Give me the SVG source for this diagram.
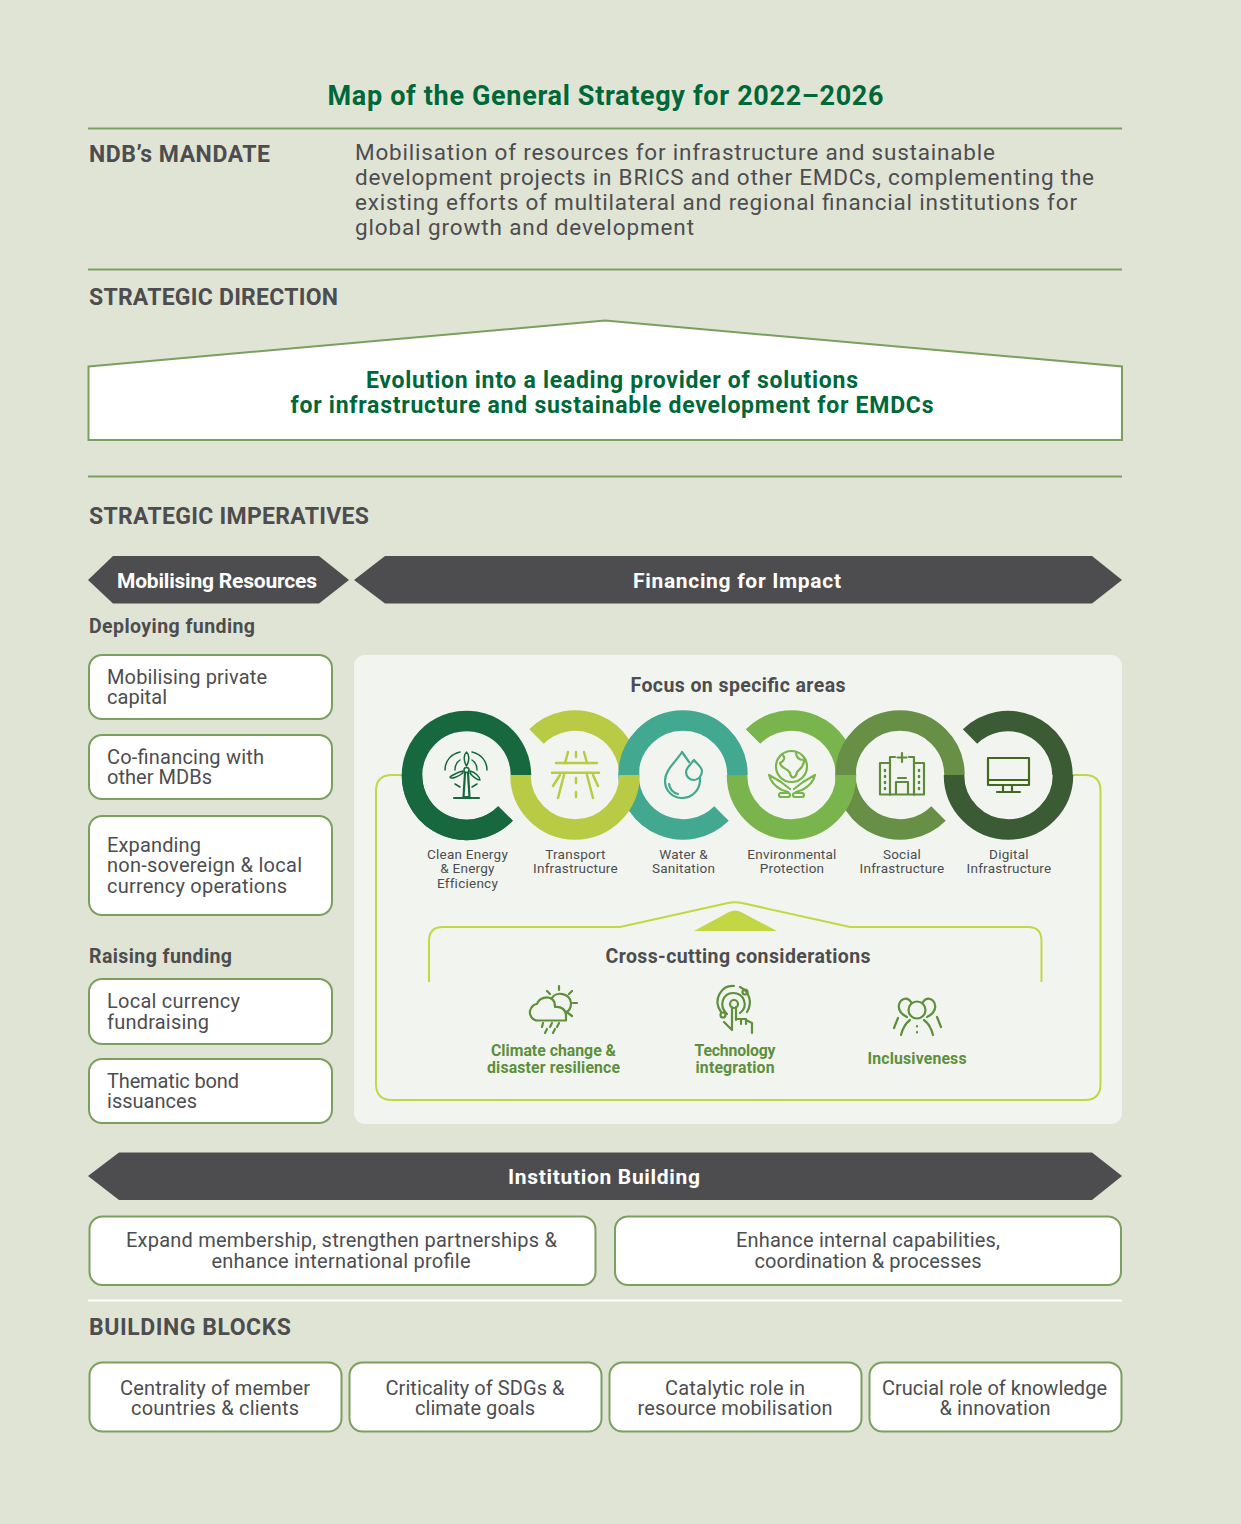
<svg xmlns="http://www.w3.org/2000/svg" width="1241" height="1524" viewBox="0 0 1241 1524">
<style>
text{font-family:Roboto,"Liberation Sans",sans-serif;fill:#4d4d4f}
.h{font-weight:700;font-size:23px}
.b{font-size:20px}
.box{fill:#fff;stroke:#7a9f5e;stroke-width:2}
.rule{stroke:#7a9f5e;stroke-width:2;fill:none}
.bar{fill:#4d4d4f}
.barT{fill:#fff;font-weight:700;font-size:21px;text-anchor:middle}
.c{text-anchor:middle}
.sub{font-weight:700;font-size:19.500px}
.a{fill:none;stroke-width:20.500}
.l{font-size:13.500px;text-anchor:middle;letter-spacing:.25px}
.g{font-weight:700;font-size:15.800px;text-anchor:middle;fill:#5d8f3c}
.ic{fill:none;stroke-width:2.200;stroke-linecap:round;stroke-linejoin:round}
</style>
<rect width="1241" height="1524" fill="#e0e4d5"/>
<g id="title"><text x="605.500" y="105" text-anchor="middle" font-size="27" font-weight="700" style="fill:#006838" textLength="556">Map of the General Strategy for 2022–2026</text></g>
<g id="rules">
<path class="rule" d="M88 128.500H1122M88 269.500H1122M88 476.500H1122"/>
<path d="M88 1300.500H1122" stroke="#fff" stroke-width="2"/>
</g>
<g id="mandate">
<text class="h" x="89" y="162" textLength="181">NDB’s MANDATE</text>
<g font-size="22.500">
<text x="355" y="160" textLength="640">Mobilisation of resources for infrastructure and sustainable</text>
<text x="355" y="185" textLength="739">development projects in BRICS and other EMDCs, complementing the</text>
<text x="355" y="210" textLength="722">existing efforts of multilateral and regional financial institutions for</text>
<text x="355" y="235" textLength="339">global growth and development</text>
</g>
</g>
<g id="direction">
<text class="h" x="89" y="305" textLength="249">STRATEGIC DIRECTION</text>
<path d="M88.500 366.500L605 320.500L1122 366.500V440H88.500Z" class="box"/>
<g font-size="23" font-weight="700" text-anchor="middle">
<text x="612" y="388" style="fill:#006838" textLength="492">Evolution into a leading provider of solutions</text>
<text x="612" y="413" style="fill:#006838" textLength="643">for infrastructure and sustainable development for EMDCs</text>
</g>
</g>
<text class="h" x="89" y="524" textLength="280">STRATEGIC IMPERATIVES</text>
<g id="mobilising-resources">
<path class="bar" d="M88 580L113 556H319L349 580L319 603.500H113Z"/>
<text class="barT" x="217" y="588" textLength="200">Mobilising Resources</text>
</g>
<g id="financing-for-impact">
<path class="bar" d="M354 580L385 556H1092L1122 580L1092 603.500H385Z"/>
<text class="barT" x="737" y="588" textLength="208">Financing for Impact</text>
</g>
<text class="sub" x="89" y="633" textLength="166">Deploying funding</text>
<g id="box-private"><rect class="box" x="89" y="655" width="243" height="64" rx="13"/>
<text class="b" x="107" y="684" textLength="160">Mobilising private</text><text class="b" x="107" y="704" textLength="60">capital</text></g>
<g id="box-cofinancing"><rect class="box" x="89" y="735" width="243" height="64" rx="13"/>
<text class="b" x="107" y="764" textLength="157">Co-financing with</text><text class="b" x="107" y="784" textLength="105">other MDBs</text></g>
<g id="box-nonsovereign"><rect class="box" x="89" y="816" width="243" height="99" rx="13"/>
<text class="b" x="107" y="852" textLength="94">Expanding</text><text class="b" x="107" y="872" textLength="195">non-sovereign &amp; local</text><text class="b" x="107" y="893" textLength="180">currency operations</text></g>
<text class="sub" x="89" y="963" textLength="143">Raising funding</text>
<g id="box-local"><rect class="box" x="89" y="979" width="243" height="65" rx="13"/>
<text class="b" x="107" y="1008" textLength="133">Local currency</text><text class="b" x="107" y="1029" textLength="102">fundraising</text></g>
<g id="box-thematic"><rect class="box" x="89" y="1059" width="243" height="64" rx="13"/>
<text class="b" x="107" y="1088" textLength="132">Thematic bond</text><text class="b" x="107" y="1108" textLength="90">issuances</text></g>

<g id="focus-panel">
<rect x="354" y="655" width="768" height="469" rx="11" fill="#f2f5ef"/>
<text class="sub c" x="738" y="692" textLength="215">Focus on specific areas</text>
</g>
<g id="connectors" fill="none" stroke="#c3d644" stroke-width="2">
<path d="M402 775H392Q376 775 376 791V1084Q376 1100 392 1100H1085Q1100.500 1100 1100.500 1084V791Q1100.500 775 1085 775H1073"/>
<path d="M429 982V941Q429 927 443 927H620L728 903Q735 901.500 742 903L850 927H1028Q1041.500 927 1041.500 941V982"/>
<path d="M694 931L729 912Q735 909 741 912L777 931Z" fill="#c3d644" stroke="none"/>
</g>
<g id="rings-under">
<path class="a" stroke="#43a890" d="M628.500 775A54.500 54.500 0 0 0 721.500 813.500"/>
<path class="a" stroke="#678f46" d="M845.500 775A54.500 54.500 0 0 0 938.500 813.500"/>
</g>
<g id="area-clean-energy">
<path class="a" stroke="#18683f" d="M505.500 813.500A54.500 54.500 0 1 1 521 775"/>
<path class="a" stroke="#18683f" d="M412 775A54.500 54.500 0 0 0 505.500 813.500"/>
<g class="ic" stroke="#18683f"><path d="M465 773L463.500 797H469.500L468 773M454 798H479"/><circle cx="466.500" cy="770" r="2.500" stroke-width="1.500"/><path d="M466.500 766C463 760 464 754 466.500 752C469 754 470 760 466.500 766ZM463 771C458 772 451 776 450 777C451 780 459 776 463 773ZM470 771C475 772 480 777 480 780C477 780 472 776 470 773Z" stroke-width="1.500"/><path d="M445 770C445 761 451 754 460 752M472 752C481 754 487 761 487 770M455 770C455 765 457 762 460 760M477 770C477 765 475 762 472 760M455 784L460 787M477 784L472 787" stroke-width="1.500"/></g>
<text class="l" x="467.500" y="859">Clean Energy</text><text class="l" x="467.500" y="873">&amp; Energy</text><text class="l" x="467.500" y="888">Efficiency</text>
</g>
<g id="area-transport">
<path class="a" stroke="#b9cb44" d="M629.500 775A54.500 54.500 0 0 0 536.500 736.500"/>
<path class="a" stroke="#b9cb44" d="M520.500 775A54.500 54.500 0 0 0 629.500 775"/>
<g class="ic" stroke="#b9cb44"><path d="M556 763H597M552 772.700H599" stroke-width="2.500"/><path d="M568 752L565 763M584 752L587 763M564 775L558 798M587 775L593 798M560 775L553 786M593 775L598 786M576 752V757M576 778V783M576 792V797" stroke-width="2.500"/></g>
<text class="l" x="575.500" y="859">Transport</text><text class="l" x="575.500" y="873">Infrastructure</text>
</g>
<g id="area-water">
<path class="a" stroke="#43a890" d="M628.500 775A54.500 54.500 0 0 1 737.500 775"/>
<g class="ic" stroke="#43a890"><path d="M689 762L682 752C675 763 665 770 665 781C665 791 673 798 682 798C692 798 700 790 700 780V778M669 784C670 790 674 793 678 794"/><path d="M694 760C690 765 686 768 686 772C686 777 690 780 694 780C698 780 702 776 702 771C702 767 697 764 694 760Z"/></g>
<text class="l" x="683.500" y="859">Water &amp;</text><text class="l" x="683.500" y="873">Sanitation</text>
</g>
<g id="area-environment">
<path class="a" stroke="#7ab44c" d="M846 775A54.500 54.500 0 0 0 753 736.500"/>
<path class="a" stroke="#7ab44c" d="M737 775A54.500 54.500 0 0 0 846 775"/>
<g class="ic" stroke="#7ab44c" stroke-width="1.500"><circle cx="791.500" cy="766.500" r="15.500"/><path d="M782 754C786 758 784 761 780 763C781 769 788 768 790 773C791 780 796 778 797 772C800 769 804 767 804 760C800 760 796 758 796 752"/><path d="M769 775C771 783 776 787 782 790L788 792M769 775L781 782L790 789M815 775C813 783 808 787 802 790L796 792M815 775L803 782L794 789"/><rect x="779" y="793" width="11" height="4" rx="2"/><rect x="793" y="793" width="11" height="4" rx="2"/></g>
<text class="l" x="792" y="859">Environmental</text><text class="l" x="792" y="873">Protection</text>
</g>
<g id="area-social">
<path class="a" stroke="#678f46" d="M845.500 775A54.500 54.500 0 0 1 954.500 775"/>
<g class="ic" stroke="#5f8a3e" stroke-width="2"><path d="M880 794.500H924V763H914M880 794.500V763H890M890 763V795M914 763V795M890 763V757H895M914 763V757H909M896 794V782H908V794M898 778H906M902 753V762M897.500 757.500H906.500"/><path d="M885 770V771M885 776V777M885 782V783M885 788V789M919 770V771M919 776V777M919 782V783M919 788V789" stroke-width="2.500"/></g>
<text class="l" x="902" y="859">Social</text><text class="l" x="902" y="873">Infrastructure</text>
</g>
<g id="area-digital">
<path class="a" stroke="#3b5b34" d="M1062.500 775A54.500 54.500 0 0 0 970 736.500"/>
<path class="a" stroke="#3b5b34" d="M954 775A54.500 54.500 0 0 0 1063 775"/>
<g class="ic" stroke="#43691f" stroke-width="2.500"><rect x="988" y="758" width="41" height="27"/><path d="M989 780H1028M1003 786V791M1012 786V791M997 792H1020"/></g>
<text class="l" x="1009" y="859">Digital</text><text class="l" x="1009" y="873">Infrastructure</text>
</g>
<g id="cross-cutting">
<text class="sub c" x="738" y="963" textLength="265">Cross-cutting considerations</text>
</g>
<g id="cc-climate">
<g class="ic" stroke="#5d8f3c"><path d="M538 1020.500C531 1020.500 529.500 1014 530 1011C531 1006 535 1004 537 1004C539 998 548 995 553 1000C555 1002 555 1005 555 1007C561 1006 566 1010 566 1015V1020.500Z"/><path d="M552 998C556 991 570 993 571 1003C571 1008 569 1011 566 1012M559 986V990M547 991L550 994M572 991L569 994M573 1003H577M568 1013L572 1016M543 1023L542 1027M552 1023L550 1027M559 1023L557 1027M547 1029L545 1033M555 1029L553 1033"/></g>
<text class="g" x="553.500" y="1056" textLength="125">Climate change &amp;</text><text class="g" x="553.500" y="1073" textLength="133">disaster resilience</text>
</g>
<g id="cc-technology">
<g class="ic" stroke="#5d8f3c"><circle cx="734" cy="1004" r="4"/><path d="M727 1014C718 1006 723 993 733 993C744 993 749 1006 740 1013M721 1012C712 999 722 985 734 986M740 987C749 991 753 1002 747 1012"/><path d="M732 1030V1007M736 1007V1020M736 1019H741V1024M741 1019H746V1024M746 1020L752 1023V1033M732 1030L724 1022"/><circle cx="745" cy="992" r="2.500"/><circle cx="723" cy="1015" r="2.500"/></g>
<text class="g" x="735" y="1056" textLength="81">Technology</text><text class="g" x="735" y="1073" textLength="79">integration</text>
</g>
<g id="cc-inclusiveness">
<g class="ic" stroke="#5d8f3c" stroke-width="2.400"><circle cx="917" cy="1010" r="8.500"/><path d="M901 1035C903 1027 906 1023 910 1020M933 1035C931 1027 928 1023 924 1020M917 1026V1026.500M917 1032V1032.500"/><path d="M907 1017C901 1014 898 1010 899 1005C900 999 907 996 911 1002M927 1017C933 1014 936 1010 935 1005C934 999 927 996 923 1002M898 1018L894 1028M937 1017L941 1027"/></g>
<text class="g" x="917" y="1064" textLength="99">Inclusiveness</text>
</g>
<g id="institution-building">
<path class="bar" d="M88 1176L119 1152.500H1092L1122 1176L1092 1200H119Z"/>
<text class="barT" x="604" y="1184" textLength="192">Institution Building</text>
</g>
<g id="box-membership"><rect class="box" x="89.500" y="1216.500" width="506" height="68.500" rx="13"/>
<text class="b c" x="341.500" y="1247" textLength="431">Expand membership, strengthen partnerships &amp;</text><text class="b c" x="341" y="1268" textLength="259">enhance international profile</text></g>
<g id="box-capabilities"><rect class="box" x="615" y="1216.500" width="506" height="68.500" rx="13"/>
<text class="b c" x="868" y="1247" textLength="264">Enhance internal capabilities,</text><text class="b c" x="868" y="1268" textLength="227">coordination &amp; processes</text></g>
<text class="h" x="89" y="1335" textLength="202">BUILDING BLOCKS</text>
<g id="block-centrality"><rect class="box" x="89.500" y="1362.500" width="252" height="69" rx="13"/>
<text class="b c" x="215" y="1395" textLength="190">Centrality of member</text><text class="b c" x="215" y="1415" textLength="168">countries &amp; clients</text></g>
<g id="block-sdgs"><rect class="box" x="349.500" y="1362.500" width="252" height="69" rx="13"/>
<text class="b c" x="475" y="1395" textLength="179">Criticality of SDGs &amp;</text><text class="b c" x="475" y="1415" textLength="120">climate goals</text></g>
<g id="block-catalytic"><rect class="box" x="609.500" y="1362.500" width="252" height="69" rx="13"/>
<text class="b c" x="735" y="1395" textLength="140">Catalytic role in</text><text class="b c" x="735" y="1415" textLength="195">resource mobilisation</text></g>
<g id="block-knowledge"><rect class="box" x="869.500" y="1362.500" width="252" height="69" rx="13"/>
<text class="b c" x="994.500" y="1395" textLength="225">Crucial role of knowledge</text><text class="b c" x="995" y="1415" textLength="111">&amp; innovation</text></g>
</svg>
